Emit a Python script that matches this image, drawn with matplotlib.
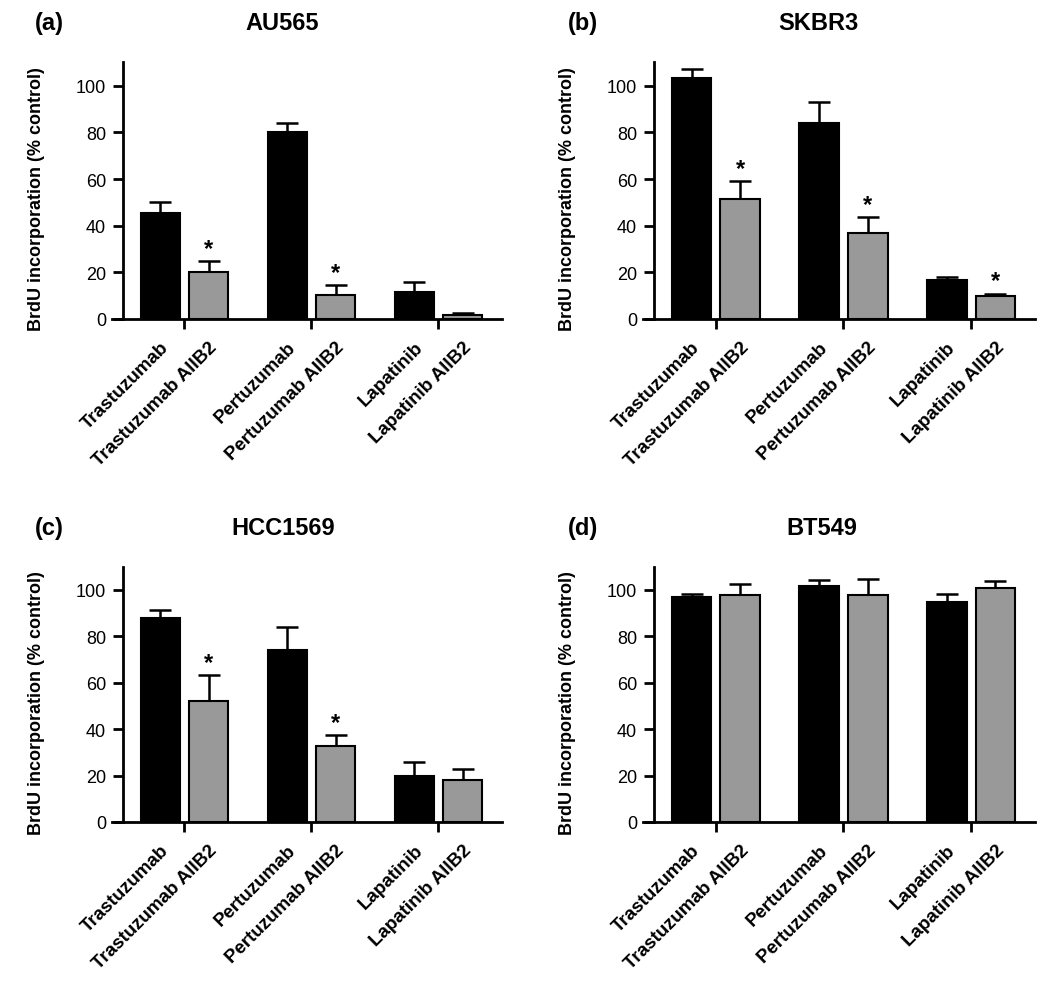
import numpy as np
import matplotlib
matplotlib.use("Agg")
import matplotlib.pyplot as plt

plt.rcParams["font.family"] = ["Liberation Sans", "DejaVu Sans"]

# treatments, in plotting order (black / grey pairs)
treatments = ["Trastuzumab", "Trastuzumab AIIB2", "Pertuzumab",
              "Pertuzumab AIIB2", "Lapatinib", "Lapatinib AIIB2"]

cell_lines = ["AU565", "SKBR3", "HCC1569", "BT549"]
panel_tags = ["(a)", "(b)", "(c)", "(d)"]

# BrdU incorporation (% control), mean and upper error
au565_mean = [45.4, 20.3, 80.0, 10.3, 11.7, 1.5]
au565_err = [4.6, 4.4, 4.0, 4.3, 4.3, 1.0]
skbr3_mean = [103.4, 51.3, 84.0, 36.8, 16.5, 10.0]
skbr3_err = [3.6, 7.7, 8.8, 6.9, 1.4, 0.9]
hcc1569_mean = [88.0, 52.0, 74.2, 32.7, 19.8, 18.1]
hcc1569_err = [3.2, 11.4, 10.0, 4.6, 6.0, 4.6]
bt549_mean = [97.0, 97.6, 101.9, 98.0, 94.8, 101.0]
bt549_err = [1.4, 5.0, 2.5, 6.7, 3.5, 2.9]

# bars marked significant (*)
au565_sig = [1, 3]
skbr3_sig = [1, 3, 5]
hcc1569_sig = [1, 3]
bt549_sig = []

means = [au565_mean, skbr3_mean, hcc1569_mean, bt549_mean]
errs = [au565_err, skbr3_err, hcc1569_err, bt549_err]
sigs = [au565_sig, skbr3_sig, hcc1569_sig, bt549_sig]

colors = ["black", "#999999"] * 3
groups = np.arange(3)
bar_x = np.ravel([[g - 0.19, g + 0.19] for g in groups])

fig = plt.figure(figsize=(10.5, 9.87), dpi=100)

# axes rectangles in figure fractions: left, bottom, width, height
rects = [
    [0.1067, 0.6758, 0.3714, 0.2600],
    [0.6124, 0.6758, 0.3733, 0.2600],
    [0.1067, 0.1662, 0.3714, 0.2586],
    [0.6124, 0.1662, 0.3733, 0.2586],
]
title_pos = [(0.269, 0.976), (0.779, 0.976), (0.270, 0.465), (0.783, 0.465)]
tag_pos = [(0.033, 0.976), (0.541, 0.976), (0.033, 0.465), (0.541, 0.465)]

for i in range(4):
    ax = fig.add_axes(rects[i])
    m = np.array(means[i])
    e = np.array(errs[i])
    ax.bar(bar_x, m, width=0.31, color=colors, edgecolor="black",
           linewidth=1.5, zorder=2)
    ax.errorbar(bar_x, m, yerr=[np.zeros_like(e), e], fmt="none",
                ecolor="black", elinewidth=1.8, capsize=8, capthick=1.8,
                zorder=1)
    for j in sigs[i]:
        ax.text(bar_x[j], m[j] + e[j] + 0.5, "*", ha="center", va="bottom",
                fontsize=17, fontweight="bold")

    ax.set_xlim(-0.57, 2.5)
    ax.set_ylim(0, 110)
    ax.spines["top"].set_visible(False)
    ax.spines["right"].set_visible(False)
    ax.spines["left"].set_position(("data", -0.485))
    ax.spines["left"].set_linewidth(2)
    ax.spines["bottom"].set_linewidth(2)

    ax.set_yticks([0, 20, 40, 60, 80, 100])
    ax.tick_params(axis="y", direction="out", length=7, width=2,
                   labelsize=13, pad=5)
    ax.set_xticks(bar_x)
    ax.set_xticklabels(treatments, rotation=45, ha="right", va="top",
                       rotation_mode="anchor", fontsize=13.5,
                       fontweight="bold")
    ax.tick_params(axis="x", which="major", length=0, pad=14)
    ax.set_xticks(groups, minor=True)
    ax.tick_params(axis="x", which="minor", direction="out", length=7,
                   width=2)

    ax.set_ylabel("BrdU incorporation (% control)", fontsize=13,
                  fontweight="bold")
    ax.yaxis.set_label_coords(-0.172, 0.47)

    fig.text(title_pos[i][0], title_pos[i][1], cell_lines[i], ha="center",
             va="center", fontsize=17, fontweight="bold")
    fig.text(tag_pos[i][0], tag_pos[i][1], panel_tags[i], ha="left",
             va="center", fontsize=17, fontweight="bold")

fig.savefig("out.png", dpi=100)
